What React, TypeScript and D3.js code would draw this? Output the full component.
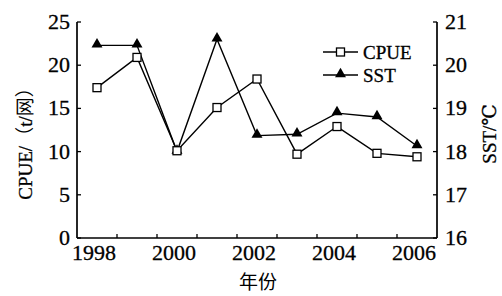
import React, { useEffect, useRef } from 'react';
import * as d3 from 'd3';

// data
const years = [1998, 1999, 2000, 2001, 2002, 2003, 2004, 2005, 2006];
const cpue = [17.4, 20.9, 10.1, 15.1, 18.4, 9.7, 12.9, 9.8, 9.4];
const sst = [20.46, 20.46, 18.0, 20.6, 18.37, 18.4, 18.89, 18.8, 18.13];
const yearLabels = [1998, 2000, 2002, 2004, 2006];
const leftTicks = [0, 5, 10, 15, 20, 25];
const rightTicks = [16, 17, 18, 19, 20, 21];

const FONT = 'Liberation Serif, DejaVu Serif, Times New Roman, serif';
const CJK = 'Noto Sans CJK SC, sans-serif';

export default function App() {
  const ref = useRef<SVGSVGElement | null>(null);

  useEffect(() => {
    const width = 502,
      height = 296;
    const margin = { top: 22, right: 65, bottom: 58, left: 77 };
    const innerW = width - margin.left - margin.right;
    const innerH = height - margin.top - margin.bottom;

    const svg = d3.select(ref.current);
    svg.selectAll('*').remove();

    const g = svg
      .append('g')
      .attr('transform', 'translate(' + margin.left + ',' + margin.top + ')');

    const x = d3.scaleBand<number>().domain(years).range([0, innerW]);
    const yL = d3.scaleLinear().domain([0, 25]).range([innerH, 0]);
    const yR = d3.scaleLinear().domain([16, 21]).range([innerH, 0]);
    const cx = (d: number) => (x(d) as number) + x.bandwidth() / 2;

    // text styling helper, slightly heavy like the scan
    const txt = (sel: any, size: number, fam = FONT) =>
      sel
        .style('font-family', fam)
        .style('font-size', size + 'px')
        .attr('stroke', '#000')
        .attr('stroke-width', 0.3)
        .attr('fill', '#000');

    // axes lines
    const axisColor = '#000';
    g.append('line')
      .attr('x1', 0).attr('x2', 0).attr('y1', 0).attr('y2', innerH)
      .attr('stroke', axisColor).attr('stroke-width', 1.7);
    g.append('line')
      .attr('x1', innerW).attr('x2', innerW).attr('y1', 0).attr('y2', innerH)
      .attr('stroke', axisColor).attr('stroke-width', 1.7);
    g.append('line')
      .attr('x1', 0).attr('x2', innerW).attr('y1', innerH).attr('y2', innerH)
      .attr('stroke', axisColor).attr('stroke-width', 1.7);

    // x ticks between years (inward)
    g.selectAll('.xtick')
      .data(years.slice(1))
      .enter()
      .append('line')
      .attr('x1', (d) => x(d) as number)
      .attr('x2', (d) => x(d) as number)
      .attr('y1', innerH)
      .attr('y2', innerH - 4)
      .attr('stroke', axisColor)
      .attr('stroke-width', 1.3);

    txt(
      g.selectAll('.xlabel')
        .data(yearLabels)
        .enter()
        .append('text')
        .attr('x', (d) => cx(d) - 3)
        .attr('y', innerH + 22)
        .attr('text-anchor', 'middle')
        .text((d) => d),
      22
    );

    // left axis
    g.selectAll('.ltick')
      .data(leftTicks)
      .enter()
      .append('line')
      .attr('x1', 0).attr('x2', 4)
      .attr('y1', (d) => yL(d)).attr('y2', (d) => yL(d))
      .attr('stroke', axisColor).attr('stroke-width', 1.3);
    txt(
      g.selectAll('.llabel')
        .data(leftTicks)
        .enter()
        .append('text')
        .attr('x', -7)
        .attr('y', (d) => yL(d) + 7)
        .attr('text-anchor', 'end')
        .text((d) => d),
      22
    );

    // right axis
    g.selectAll('.rtick')
      .data(rightTicks)
      .enter()
      .append('line')
      .attr('x1', innerW).attr('x2', innerW - 4)
      .attr('y1', (d) => yR(d)).attr('y2', (d) => yR(d))
      .attr('stroke', axisColor).attr('stroke-width', 1.3);
    txt(
      g.selectAll('.rlabel')
        .data(rightTicks)
        .enter()
        .append('text')
        .attr('x', innerW + 8)
        .attr('y', (d) => yR(d) + 7)
        .attr('text-anchor', 'start')
        .text((d) => d),
      22
    );

    // axis titles
    const lt = txt(
      svg.append('text')
        .attr('transform', 'translate(32,139) rotate(-90)')
        .attr('text-anchor', 'middle'),
      19
    );
    lt.append('tspan').text('CPUE/');
    lt.append('tspan').style('font-family', CJK).attr('stroke-width', 0).text('（');
    lt.append('tspan').text('t/');
    lt.append('tspan').style('font-family', CJK).attr('stroke-width', 0).text('网）');
    txt(
      svg.append('text')
        .attr('transform', 'translate(496,134) rotate(-90)')
        .attr('text-anchor', 'middle')
        .text('SST/℃'),
      19
    );
    txt(
      svg.append('text')
        .attr('x', 258)
        .attr('y', 289)
        .attr('text-anchor', 'middle')
        .text('年份'),
      19,
      CJK
    ).attr('stroke-width', 0);

    // lines
    const lineL = d3.line<number>().x((d, i) => cx(years[i])).y((d) => yL(d));
    const lineR = d3.line<number>().x((d, i) => cx(years[i])).y((d) => yR(d));

    g.append('path')
      .attr('d', lineR(sst) as string)
      .attr('fill', 'none').attr('stroke', '#000').attr('stroke-width', 1.4);
    g.append('path')
      .attr('d', lineL(cpue) as string)
      .attr('fill', 'none').attr('stroke', '#000').attr('stroke-width', 1.4);

    const tri = d3.symbol().type(d3.symbolTriangle).size(52);
    g.selectAll('.tri')
      .data(sst)
      .enter()
      .append('path')
      .attr('d', tri() as string)
      .attr('transform', (d, i) => 'translate(' + cx(years[i]) + ',' + (yR(d) - 1) + ')')
      .attr('fill', '#000');

    g.selectAll('.sq')
      .data(cpue)
      .enter()
      .append('rect')
      .attr('x', (d, i) => cx(years[i]) - 4)
      .attr('y', (d) => yL(d) - 4)
      .attr('width', 8)
      .attr('height', 8)
      .attr('fill', '#fff')
      .attr('stroke', '#000')
      .attr('stroke-width', 1.3);

    // legend
    const lg = svg.append('g').attr('transform', 'translate(323,52)');
    lg.append('line').attr('x1', 0).attr('x2', 35).attr('y1', 0).attr('y2', 0)
      .attr('stroke', '#000').attr('stroke-width', 1.4);
    lg.append('rect').attr('x', 13.5).attr('y', -4).attr('width', 8).attr('height', 8)
      .attr('fill', '#fff').attr('stroke', '#000').attr('stroke-width', 1.3);
    txt(lg.append('text').attr('x', 40).attr('y', 7).text('CPUE'), 19);
    lg.append('line').attr('x1', 0).attr('x2', 35).attr('y1', 23).attr('y2', 23)
      .attr('stroke', '#000').attr('stroke-width', 1.4);
    lg.append('path').attr('d', tri() as string)
      .attr('transform', 'translate(17.5,22)').attr('fill', '#000');
    txt(lg.append('text').attr('x', 40).attr('y', 30).text('SST'), 19);
  }, []);

  return (
    <svg
      ref={ref}
      width={502}
      height={296}
      style={{ position: 'absolute', left: 0, top: 0, background: '#fff' }}
    />
  );
}
